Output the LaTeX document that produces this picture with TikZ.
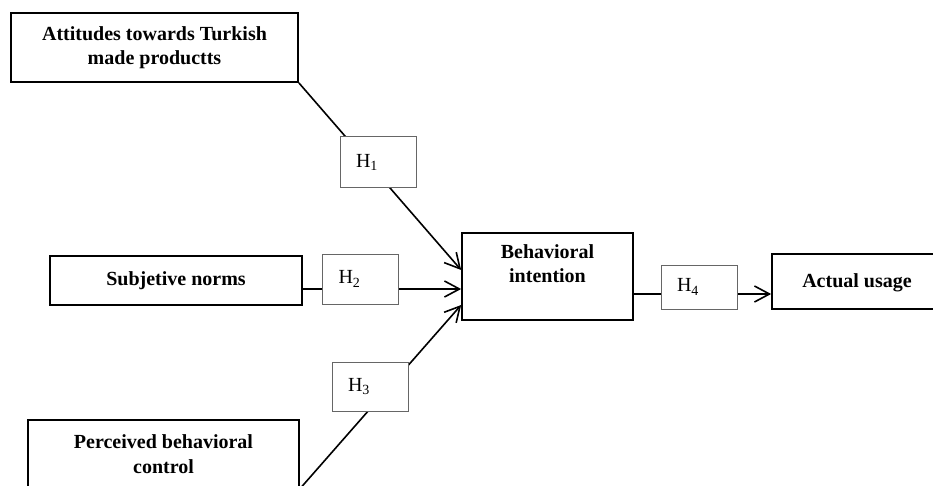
\documentclass[tikz,border=0pt]{standalone}
\usepackage{fontspec}
\setmainfont{Liberation Serif}
\usetikzlibrary{positioning,arrows.meta}

\begin{document}
\begin{tikzpicture}[x=1pt,y=-1pt,>={Straight Barb[length=15pt,width=16pt]},
  txt/.style={align=center,font=\fontsize{20}{24.5}\selectfont\bfseries,inner sep=0pt},
  box/.style={txt,draw,line width=1.7pt},
  hyp/.style={draw=black!60,line width=1pt,fill=white,minimum height=49pt,text width=44pt,inner xsep=16pt,inner ysep=0pt,align=left,font=\fontsize{20}{24}\selectfont},
  link/.style={line width=1.6pt}]
\useasboundingbox (0,0) rectangle (933,486);
% constructs
\node[box,minimum width=287pt,minimum height=69pt] (att) at (154.5,47.5) {Attitudes towards Turkish\\made productts};
\node[box,minimum width=252pt,minimum height=49pt] (subj) at (176,280.5) {Subjetive norms};
\node[box,minimum width=271pt,minimum height=68pt] (pbc) at (163.5,454) {Perceived behavioral\\control};
\node[box,minimum width=171pt,minimum height=87pt,label={[txt,anchor=north,yshift=-12pt]north:Behavioral\\intention}] (bi) at (547.5,276.5) {};
\node[box,minimum width=190pt,minimum height=55pt,label={[txt,anchor=center,xshift=-10pt,yshift=-1pt]center:Actual usage}] (act) at (867,281.5) {};
% paths
\draw[link,->] (att.south east) -- ([yshift=6.5pt]bi.west);
\draw[link,->] ([yshift=-8.5pt]subj.east) -- ([yshift=-8.5pt]subj.east -| bi.west);
\draw[link,->] (pbc.south east) -- ([yshift=-28.5pt]bi.west);
\draw[link,->] ([yshift=-17.5pt]bi.east) -- ([yshift=-17.5pt]bi.east -| act.west);
% hypotheses
\node[hyp,minimum height=51pt] (h1) at (378,162.5) {H\textsubscript{1}};
\node[hyp,minimum height=50pt] (h2) at (360.5,279) {H\textsubscript{2}};
\node[hyp] (h3) at (370,386.5) {H\textsubscript{3}};
\node[hyp,minimum height=44pt] (h4) at (699,287) {H\textsubscript{4}};
\end{tikzpicture}
\end{document}
